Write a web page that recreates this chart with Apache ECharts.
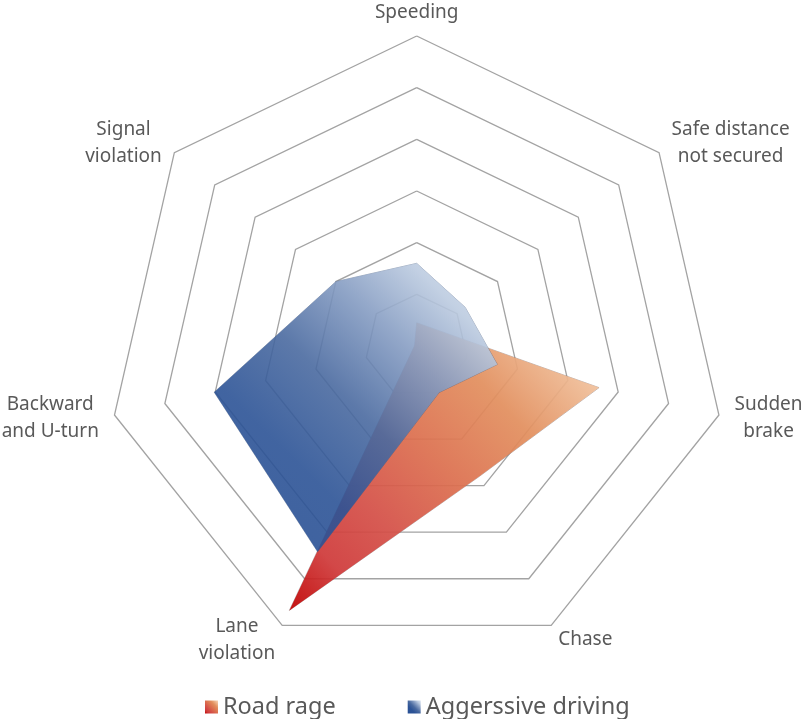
<!DOCTYPE html>
<html>
<head>
<meta charset="utf-8">
<script src="https://cdn.jsdelivr.net/npm/echarts@6/dist/echarts.min.js"></script>
<style>
  html, body { margin: 0; padding: 0; background: #ffffff; }
  #chart { width: 801px; height: 719px; }
</style>
</head>
<body>
<div id="chart"></div>
<script>
// Categories in clockwise order starting at the top
const categories = ['Speeding', 'Safe distance\nnot secured', 'Sudden\nbrake', 'Chase', 'Lane\nviolation', 'Backward\nand U-turn', 'Signal\nviolation'];
const seriesNames = ['Road rage', 'Aggerssive driving'];
const roadRage = [0.45, 0.5, 3.62, 2.8, 5.68, 0.05, 0.05];
const aggressiveDriving = [1.6, 1.2, 1.6, 1.0, 4.42, 4.02, 2.0];
const axisMax = 6;
const ringCount = 6;

// ECharts lays indicators out counter-clockwise; reorder so the picture runs clockwise
const order = [0].concat(categories.map((_, i) => i).slice(1).reverse());
const indicators = order.map(i => ({ name: categories[i], max: axisMax }));
const pick = arr => order.map(i => arr[i]);

const redGrad = () => new echarts.graphic.LinearGradient(1, 0, 0, 1, [
  { offset: 0, color: '#f8d4b8' },
  { offset: 0.12, color: '#efbc96' },
  { offset: 0.3, color: '#e28f5e' },
  { offset: 0.5, color: '#dc704f' },
  { offset: 0.7, color: '#d44f47' },
  { offset: 0.85, color: '#cf3a3a' },
  { offset: 1, color: '#c00000' }
]);
const blueGrad = () => new echarts.graphic.LinearGradient(1, 0, 0, 1, [
  { offset: 0, color: '#d8e2ef' },
  { offset: 0.15, color: '#bccbe0' },
  { offset: 0.31, color: '#859cc2' },
  { offset: 0.5, color: '#4a6aa0' },
  { offset: 0.7, color: '#2c5396' },
  { offset: 1, color: '#284f94' }
]);

const chart = echarts.init(document.getElementById('chart'), null, { renderer: 'canvas' });
const fontFamily = '"Noto Sans", "Liberation Sans", sans-serif';

chart.setOption({
  backgroundColor: '#ffffff',
  animation: false,
  legend: {
    bottom: -5,
    left: 200,
    icon: 'rect',
    itemWidth: 13,
    itemHeight: 13,
    itemGap: 72,
    textStyle: { fontSize: 23.5, color: '#595959', fontFamily: fontFamily },
    data: [
      { name: seriesNames[0], itemStyle: { color: redGrad(), borderWidth: 0 } },
      { name: seriesNames[1], itemStyle: { color: blueGrad(), borderWidth: 0 } }
    ]
  },
  radar: {
    center: [416.7, 346],
    radius: 310,
    startAngle: 90,
    splitNumber: ringCount,
    shape: 'polygon',
    nameGap: 16,
    indicator: indicators,
    axisName: {
      color: '#595959',
      fontSize: 19,
      fontFamily: fontFamily,
      formatter: function (name) {
        const lines = name.split('\n');
        if (lines.length === 1 && name === categories[0]) return '{t|' + name + '}';
        return lines.map(l => '{c|' + l + '}').join('\n');
      },
      rich: {
        c: { align: 'center', fontSize: 19, lineHeight: 27, color: '#595959', fontFamily: fontFamily },
        t: { align: 'center', fontSize: 19, lineHeight: 15, color: '#595959', fontFamily: fontFamily }
      }
    },
    splitLine: { lineStyle: { color: '#a3a3a3', width: 1.3 } },
    splitArea: { show: false },
    axisLine: { show: false },
    axisTick: { show: false },
    axisLabel: { show: false }
  },
  series: [
    {
      name: seriesNames[0],
      type: 'radar',
      symbol: 'none',
      z: 2,
      lineStyle: { color: 'rgba(110,95,95,0.55)', width: 0.8 },
      itemStyle: { color: '#d9603f' },
      areaStyle: { color: redGrad(), opacity: 0.93 },
      data: [{ name: seriesNames[0], value: pick(roadRage) }]
    },
    {
      name: seriesNames[1],
      type: 'radar',
      symbol: 'none',
      z: 3,
      lineStyle: { color: 'rgba(70,90,125,0.6)', width: 0.8 },
      itemStyle: { color: '#2f5597' },
      areaStyle: { color: blueGrad(), opacity: 0.9 },
      data: [{ name: seriesNames[1], value: pick(aggressiveDriving) }]
    }
  ]
});
</script>
</body>
</html>
